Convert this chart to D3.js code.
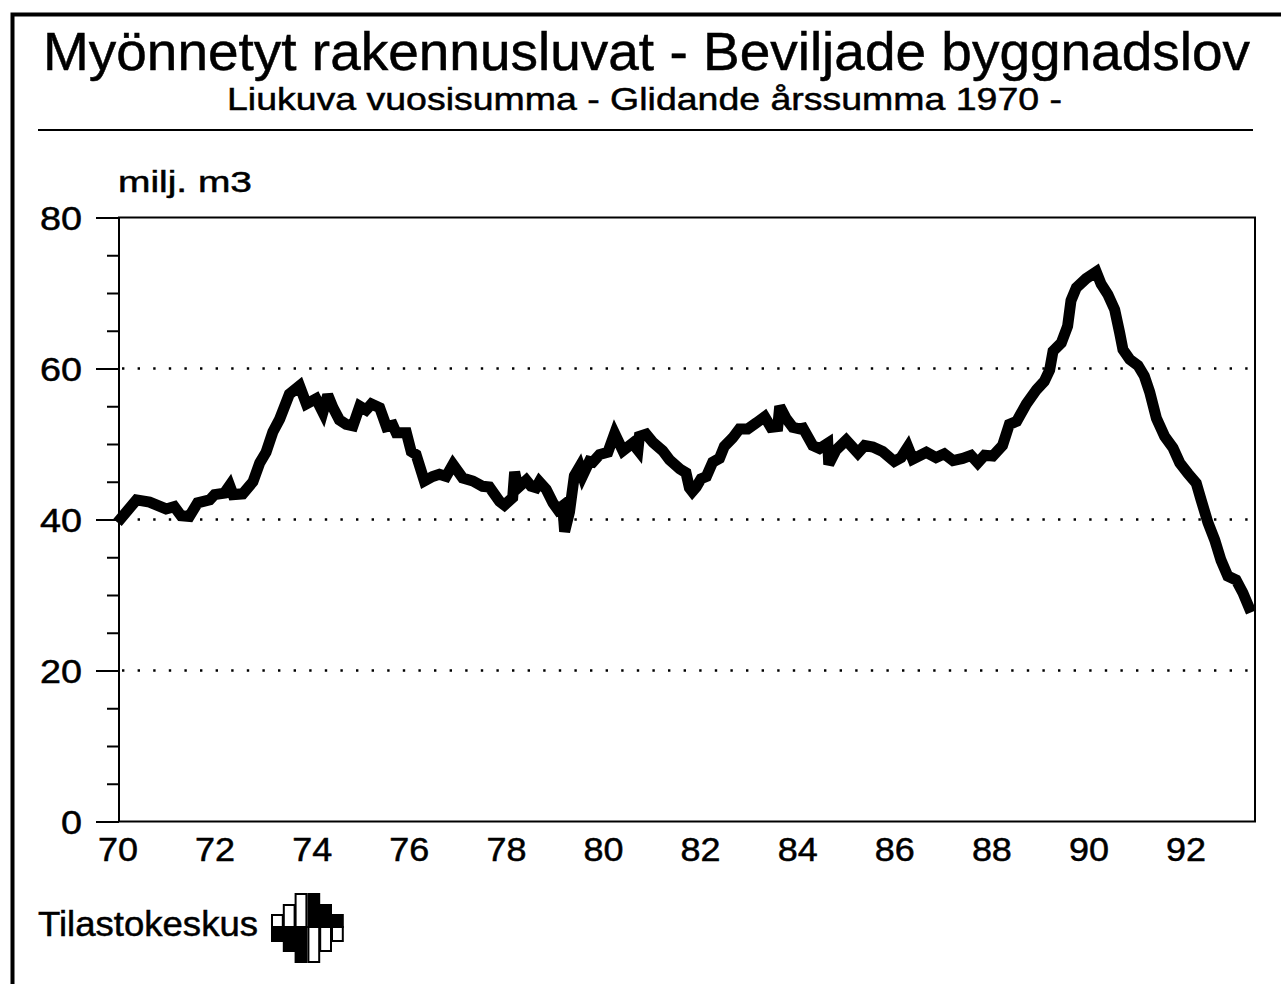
<!DOCTYPE html>
<html>
<head>
<meta charset="utf-8">
<script src="https://cdn.jsdelivr.net/npm/d3@7"></script>
<style>
  body { margin: 0; background: #fff; }
  svg { display: block; }
  text { font-family: "Liberation Sans", Arial, Helvetica, sans-serif; fill: #000; stroke: #000; stroke-width: 0.5px; }
</style>
</head>
<body>
<div id="chart"></div>
<script>
// rolling annual sum of granted building permits, million m3
const years = [
  1970.00, 1970.39, 1970.66, 1971.00, 1971.17, 1971.31, 1971.48, 1971.65, 1971.90, 1972.00,
  1972.20, 1972.31, 1972.38, 1972.58, 1972.79, 1972.93, 1973.06, 1973.20, 1973.34, 1973.54,
  1973.75, 1973.89, 1974.09, 1974.23, 1974.33, 1974.44, 1974.57, 1974.71, 1974.85, 1974.99,
  1975.12, 1975.23, 1975.40, 1975.54, 1975.67, 1975.74, 1975.95, 1976.05, 1976.15, 1976.32,
  1976.49, 1976.63, 1976.77, 1976.91, 1977.11, 1977.32, 1977.52, 1977.66, 1977.87, 1977.97,
  1978.14, 1978.18, 1978.25, 1978.42, 1978.52, 1978.62, 1978.69, 1978.83, 1978.97, 1979.07,
  1979.17, 1979.21, 1979.31, 1979.41, 1979.52, 1979.58, 1979.72, 1979.79, 1979.93, 1980.10,
  1980.24, 1980.41, 1980.61, 1980.72, 1980.75, 1980.89, 1981.03, 1981.23, 1981.37, 1981.58,
  1981.71, 1981.78, 1981.84, 1981.92, 1982.02, 1982.13, 1982.26, 1982.40, 1982.50, 1982.67,
  1982.81, 1982.98, 1983.16, 1983.33, 1983.46, 1983.60, 1983.64, 1983.77, 1983.91, 1984.05,
  1984.12, 1984.32, 1984.46, 1984.63, 1984.65, 1984.80, 1985.01, 1985.25, 1985.39, 1985.56,
  1985.76, 1986.00, 1986.14, 1986.28, 1986.38, 1986.66, 1986.86, 1987.03, 1987.21, 1987.41,
  1987.58, 1987.72, 1987.86, 1988.03, 1988.23, 1988.37, 1988.52, 1988.72, 1988.93, 1989.09,
  1989.20, 1989.27, 1989.44, 1989.57, 1989.64, 1989.75, 1989.95, 1990.16, 1990.26, 1990.40,
  1990.54, 1990.64, 1990.71, 1990.85, 1991.02, 1991.15, 1991.26, 1991.40, 1991.57, 1991.74,
  1991.88, 1992.05, 1992.22, 1992.32, 1992.46, 1992.60, 1992.73, 1992.87, 1993.04, 1993.18,
  1993.35
];
const values = [
  39.6, 42.6, 42.3, 41.4, 41.7, 40.5, 40.4, 42.2, 42.6, 43.3,
  43.5, 44.5, 43.3, 43.4, 45.0, 47.5, 48.9, 51.6, 53.3, 56.6,
  57.7, 55.3, 56.0, 54.2, 56.5, 54.8, 53.2, 52.6, 52.4, 55.0,
  54.5, 55.3, 54.8, 52.3, 52.5, 51.5, 51.5, 49.0, 48.6, 45.1,
  45.7, 46.0, 45.7, 47.3, 45.5, 45.1, 44.4, 44.3, 42.4, 41.9,
  42.9, 46.3, 44.2, 45.2, 44.4, 44.2, 45.0, 44.0, 42.2, 41.3,
  41.8, 38.4, 41.0, 45.8, 47.0, 45.8, 47.7, 47.6, 48.6, 48.9,
  51.4, 49.1, 50.1, 49.2, 51.0, 51.3, 50.2, 49.1, 47.9, 46.7,
  46.2, 44.2, 43.7, 44.3, 45.4, 45.7, 47.6, 48.1, 49.7, 50.8,
  52.0, 52.0, 52.8, 53.6, 52.2, 52.3, 55.0, 53.4, 52.2, 52.0,
  52.1, 49.8, 49.4, 50.1, 47.3, 49.2, 50.5, 48.8, 49.8, 49.6,
  49.0, 47.7, 48.2, 49.6, 48.0, 48.9, 48.2, 48.7, 47.8, 48.1,
  48.5, 47.5, 48.5, 48.4, 49.8, 52.6, 53.0, 55.3, 57.2, 58.3,
  59.8, 62.3, 63.4, 65.6, 69.0, 70.7, 71.9, 72.8, 71.2, 69.8,
  67.8, 64.8, 62.5, 61.2, 60.4, 59.0, 56.9, 53.4, 51.0, 49.5,
  47.5, 46.1, 44.8, 42.6, 39.6, 37.3, 34.6, 32.5, 32.0, 30.3,
  27.7
];

const yTicks = [0, 20, 40, 60, 80];
const yMinorTicks = [5, 10, 15, 25, 30, 35, 45, 50, 55, 65, 70, 75];
const gridValues = [20, 40, 60];
const xTickYears = [1970, 1972, 1974, 1976, 1978, 1980, 1982, 1984, 1986, 1988, 1990, 1992];

const titleText = 'Myönnetyt rakennusluvat - Beviljade byggnadslov';
const subtitleText = 'Liukuva vuosisumma - Glidande årssumma 1970 -';
const unitText = 'milj. m3';
const sourceText = 'Tilastokeskus';

const logoHeights = [12, 22, 33, 33, 22, 12];

const W = 1281, H = 984;
const plot = { left: 119, right: 1255, top: 218, bottom: 822 };

const svg = d3.select('#chart').append('svg')
  .attr('width', W)
  .attr('height', H);

// page frame (left and top edges only, like the scanned sheet)
svg.append('path')
  .attr('d', `M12.5,${H} V14.5 H${W}`)
  .attr('fill', 'none')
  .attr('stroke', '#000')
  .attr('stroke-width', 4);

// headings
svg.append('text')
  .attr('x', 43).attr('y', 70)
  .attr('font-size', 54)
  .attr('textLength', 1207).attr('lengthAdjust', 'spacingAndGlyphs')
  .text(titleText);

svg.append('text')
  .attr('x', 227).attr('y', 110)
  .attr('font-size', 32)
  .attr('textLength', 835).attr('lengthAdjust', 'spacingAndGlyphs')
  .text(subtitleText);

svg.append('line')
  .attr('x1', 38).attr('x2', 1253)
  .attr('y1', 130).attr('y2', 130)
  .attr('stroke', '#000').attr('stroke-width', 2);

svg.append('text')
  .attr('x', 118).attr('y', 192)
  .attr('font-size', 30)
  .attr('textLength', 134).attr('lengthAdjust', 'spacingAndGlyphs')
  .text(unitText);

// scales
const x = d3.scaleLinear()
  .domain([1970, 1993.43])
  .range([117.5, plot.right]);

const y = d3.scaleLinear()
  .domain([0, 80])
  .range([plot.bottom - 0.5, plot.top - 0.5]);

// dotted grid
svg.append('g')
  .selectAll('line')
  .data(gridValues)
  .join('line')
  .attr('x1', plot.left + 3).attr('x2', plot.right)
  .attr('y1', d => y(d)).attr('y2', d => y(d))
  .attr('stroke', '#000')
  .attr('stroke-width', 2.4)
  .attr('stroke-dasharray', '2.4,13.2');

// plot frame
svg.append('rect')
  .attr('x', plot.left).attr('y', y(80))
  .attr('width', plot.right - plot.left)
  .attr('height', y(0) - y(80))
  .attr('fill', 'none')
  .attr('stroke', '#000')
  .attr('stroke-width', 2);

// y axis: minor ticks
const yMinor = svg.append('g')
  .attr('transform', `translate(${plot.left},0)`)
  .call(d3.axisLeft(y).tickValues(yMinorTicks).tickSize(12).tickFormat(''));
yMinor.select('.domain').remove();
yMinor.selectAll('line').attr('stroke-width', 2);

// y axis: major ticks + labels
const yAxis = svg.append('g')
  .attr('transform', `translate(${plot.left},0)`)
  .call(d3.axisLeft(y).tickValues(yTicks).tickSize(23).tickPadding(14));
yAxis.select('.domain').remove();
yAxis.selectAll('line').attr('stroke-width', 2);
yAxis.attr('font-family', null).attr('font-size', null);
yAxis.selectAll('text')
  .attr('font-size', 33)
  .attr('dy', '0.36em')
  .attr('textLength', d => d === 0 ? 21 : 42)
  .attr('lengthAdjust', 'spacingAndGlyphs');

// x axis labels
const xAxis = svg.append('g')
  .attr('transform', `translate(0,${plot.bottom})`)
  .call(d3.axisBottom(x).tickValues(xTickYears).tickSize(0).tickPadding(16)
    .tickFormat(d => String(d).slice(2)));
xAxis.select('.domain').remove();
xAxis.attr('font-family', null).attr('font-size', null);
xAxis.selectAll('text')
  .attr('font-size', 33)
  .attr('textLength', 40)
  .attr('lengthAdjust', 'spacingAndGlyphs');

// the series
const line = d3.line()
  .x((d, i) => x(years[i]))
  .y(d => y(d));

svg.append('path')
  .datum(values)
  .attr('d', line)
  .attr('fill', 'none')
  .attr('stroke', '#000')
  .attr('stroke-width', 11)
  .attr('stroke-linejoin', 'miter')
  .attr('stroke-miterlimit', 3)
  .attr('stroke-linecap', 'butt');

// source + logo
svg.append('text')
  .attr('x', 38).attr('y', 936)
  .attr('font-size', 35)
  .attr('textLength', 220).attr('lengthAdjust', 'spacingAndGlyphs')
  .text(sourceText);

const logoMid = 927, logoX = 272, colW = 11.8;
const logo = svg.append('g');
logoHeights.forEach((h, i) => {
  const cx = logoX + i * colW + (i >= 3 ? 1 : 0);
  const topFill = i < 3 ? '#fff' : '#000';
  const botFill = i < 3 ? '#000' : '#fff';
  logo.append('rect')
    .attr('x', cx).attr('y', logoMid - h)
    .attr('width', colW - 1).attr('height', h)
    .attr('fill', topFill).attr('stroke', '#000').attr('stroke-width', 2);
  logo.append('rect')
    .attr('x', cx).attr('y', logoMid)
    .attr('width', colW - 1).attr('height', h + 2)
    .attr('fill', botFill).attr('stroke', '#000').attr('stroke-width', 2);
});
</script>
</body>
</html>
